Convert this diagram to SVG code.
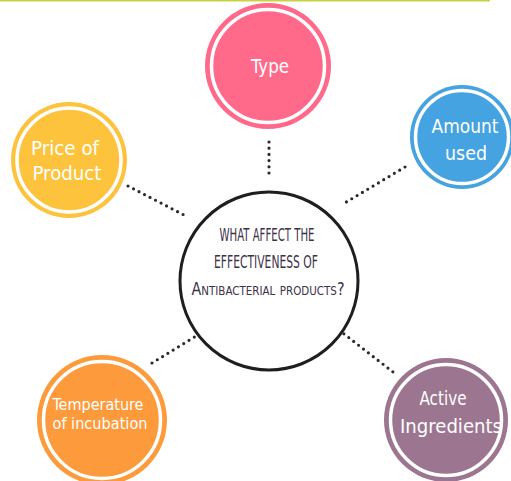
<svg xmlns="http://www.w3.org/2000/svg" width="511" height="481" viewBox="0 0 511 481">
<style>
.ring{fill:none;stroke:#fff;stroke-width:3.5}
.lbl{font-family:"DejaVu Sans Condensed","Liberation Sans",sans-serif;font-size:19px;fill:#fff;text-anchor:middle}
.sm{font-size:15px}
.ctr{font-family:"DejaVu Sans Condensed","Liberation Sans",sans-serif;font-size:18px;fill:#3d3048;text-anchor:middle;font-variant:small-caps}
.dot{stroke:#2a2a2a;stroke-width:3.2;stroke-linecap:round;stroke-dasharray:0 6.2;fill:none}
</style>
<rect width="511" height="481" fill="#fff"/>
<line x1="0" y1="0.5" x2="490" y2="0.5" stroke="#c9d33f" stroke-width="2"/>
<g id="connectors">
<line class="dot" x1="269" y1="142" x2="269" y2="176"/>
<line class="dot" x1="128" y1="186" x2="186" y2="216"/>
<line class="dot" x1="405" y1="167" x2="343" y2="204"/>
<line class="dot" x1="152" y1="363" x2="201" y2="333"/>
<line class="dot" x1="339" y1="330" x2="393" y2="372"/>
</g>
<g id="center">
<circle cx="269" cy="281" r="89" fill="#fff" stroke="#1e1e1e" stroke-width="3"/>
<text class="ctr" x="267" y="241" textLength="95" lengthAdjust="spacingAndGlyphs">WHAT AFFECT THE</text>
<text class="ctr" x="266" y="268" textLength="104" lengthAdjust="spacingAndGlyphs">EFFECTIVENESS OF</text>
<text class="ctr" x="268" y="295" textLength="153" lengthAdjust="spacingAndGlyphs">Antibacterial products?</text>
</g>
<g id="type">
<circle cx="268" cy="66" r="63" fill="#ff6a8b"/>
<circle class="ring" cx="268" cy="66" r="56.5"/>
<text class="lbl" x="270" y="73" textLength="38" lengthAdjust="spacingAndGlyphs">Type</text>
</g>
<g id="amount">
<circle cx="462" cy="137" r="52" fill="#44a3e0"/>
<circle class="ring" cx="462" cy="137" r="46.5"/>
<text class="lbl" x="465" y="133" textLength="67" lengthAdjust="spacingAndGlyphs">Amount</text>
<text class="lbl" x="466" y="160" textLength="42" lengthAdjust="spacingAndGlyphs">used</text>
</g>
<g id="price">
<circle cx="69" cy="160" r="58" fill="#fdc33d"/>
<circle class="ring" cx="69" cy="160" r="52"/>
<text class="lbl" x="65" y="155" textLength="68" lengthAdjust="spacingAndGlyphs">Price of</text>
<text class="lbl" x="67" y="180" textLength="69" lengthAdjust="spacingAndGlyphs">Product</text>
</g>
<g id="temperature">
<circle cx="102" cy="420" r="65" fill="#fd9a3b"/>
<circle class="ring" cx="102" cy="420" r="58.5"/>
<text class="lbl sm" x="98" y="410" textLength="91" lengthAdjust="spacingAndGlyphs">Temperature</text>
<text class="lbl sm" x="100" y="429" textLength="95" lengthAdjust="spacingAndGlyphs">of incubation</text>
</g>
<g id="active">
<circle cx="446" cy="420" r="62" fill="#9c7690"/>
<circle class="ring" cx="446" cy="420" r="55.5"/>
<text class="lbl" x="443" y="405" textLength="47" lengthAdjust="spacingAndGlyphs">Active</text>
<text class="lbl" x="451" y="433" textLength="102" lengthAdjust="spacingAndGlyphs">Ingredients</text>
</g>
</svg>
